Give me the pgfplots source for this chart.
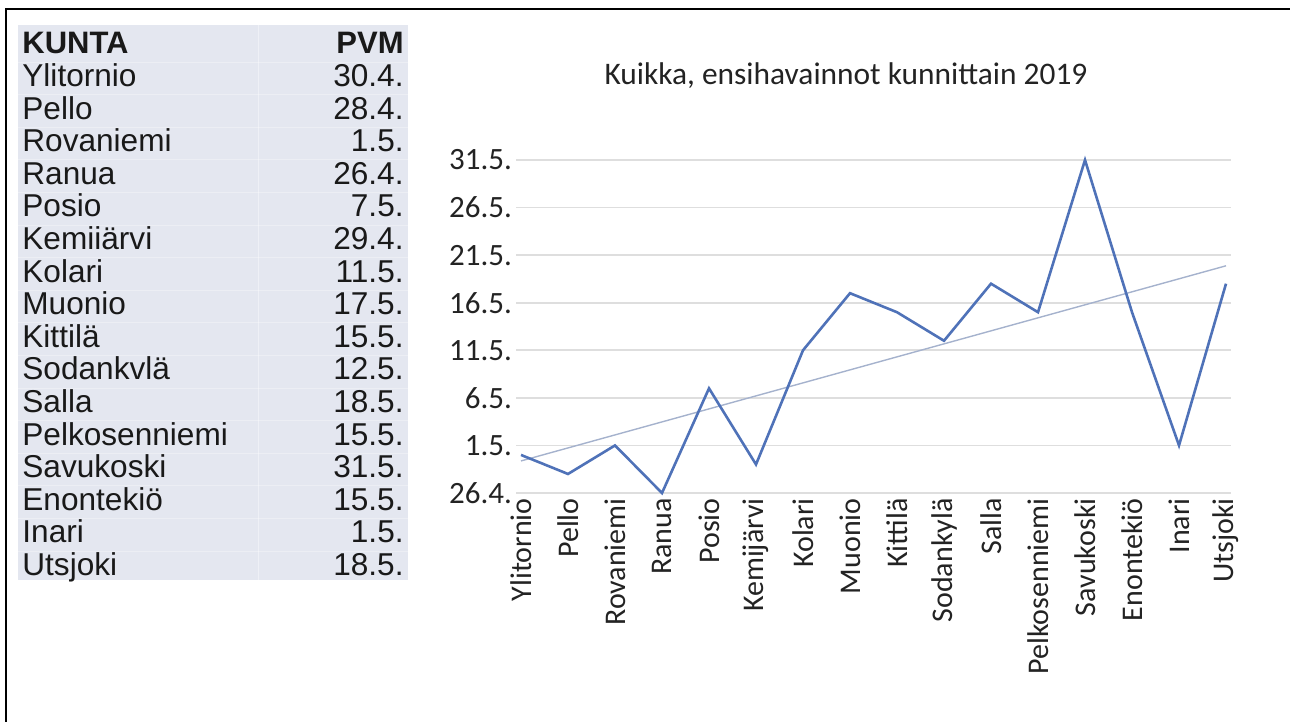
\documentclass[border=0pt]{standalone}
\usepackage{pgfplots}
\pgfplotsset{compat=1.18}
\usepackage{fontspec}
\setmainfont{Liberation Sans}
\newfontfamily\carlito{Carlito}

\definecolor{linecol}{RGB}{79,114,184}
\definecolor{trendcol}{RGB}{165,178,205}
\definecolor{gridcol}{RGB}{222,222,222}
\definecolor{tablebg}{RGB}{228,231,240}
\definecolor{txt}{RGB}{25,25,25}
\definecolor{axtxt}{RGB}{35,35,35}

% days counted from 26.4. (0) to 31.5. (35)
\pgfplotstableread{
x y
1 4
2 2
3 5
4 0
5 11
6 3
7 15
8 21
9 19
10 16
11 22
12 19
13 35
14 19
15 5
16 22
}\kuikka

\begin{document}
\begin{tikzpicture}[x=1pt,y=1pt]
\useasboundingbox (0,0) rectangle (645,361);
\draw[line width=1.1pt] (3,0) -- (3,356.5) -- (645,356.5);

% table
\fill[tablebg] (9,71) rectangle (204,348.5);
\draw[white, line width=0.5pt, opacity=0.4] (129,71) -- (129,348.5);
\node[anchor=base west, inner sep=0, text=txt, font=\bfseries\fontsize{15.5}{16}\selectfont] at (11,334) {KUNTA};
\node[anchor=base east, inner sep=0, text=txt, font=\bfseries\fontsize{15.5}{16}\selectfont] at (202,334) {PVM};
\foreach \n/\d [count=\i] in {Ylitornio/30.4., Pello/28.4., Rovaniemi/1.5., Ranua/26.4., Posio/7.5., Kemiiärvi/29.4., Kolari/11.5., Muonio/17.5., Kittilä/15.5., Sodankvlä/12.5., Salla/18.5., Pelkosenniemi/15.5., Savukoski/31.5., Enontekiö/15.5., Inari/1.5., Utsjoki/18.5.}{
  \draw[white, line width=0.4pt, opacity=0.3] (9,{334-16.3*\i+12.3}) -- (204,{334-16.3*\i+12.3});
  \node[anchor=base west, inner sep=0, text=txt, font=\fontsize{15.8}{16}\selectfont] at (11,{334-16.3*\i}) {\n};
  \node[anchor=base east, inner sep=0, text=txt, font=\fontsize{15.8}{16}\selectfont] at (202,{334-16.3*\i}) {\d};
}

% chart
\node[anchor=base, inner sep=0, text=axtxt, font=\carlito\fontsize{15.7}{18}\selectfont] at (423,318.5) {Kuikka, ensihavainnot kunnittain 2019};

\begin{axis}[
    at={(258.15pt,114.5pt)}, anchor=south west,
    width=357.2pt, height=166.5pt, scale only axis,
    xmin=0.9, xmax=16.1, ymin=0, ymax=35,
    axis line style={draw=none},
    major tick length=0pt,
    ymajorgrids, grid style={gridcol, line width=0.8pt},
    xtick={1,...,16},
    xticklabels={Ylitornio,Pello,Rovaniemi,Ranua,Posio,Kemijärvi,Kolari,Muonio,Kittilä,Sodankylä,Salla,Pelkosenniemi,Savukoski,Enontekiö,Inari,Utsjoki},
    ytick={0,5,...,35},
    yticklabels={26.4.,1.5.,6.5.,11.5.,16.5.,21.5.,26.5.,31.5.},
    ticklabel style={text=axtxt, inner sep=0pt},
    xticklabel style={rotate=90, anchor=east, font=\carlito\fontsize{15}{17}\selectfont},
    xticklabel shift=2.5pt,
    yticklabel style={anchor=east, font=\carlito\fontsize{15.5}{17}\selectfont},
    yticklabel shift=2pt,
    clip=false,
]
\addplot[trendcol, line width=0.7pt] coordinates {(1,3.37) (16,23.88)};
\addplot[linecol, line width=1.3pt] table[x=x, y=y] {\kuikka};
\end{axis}
\end{tikzpicture}
\end{document}
